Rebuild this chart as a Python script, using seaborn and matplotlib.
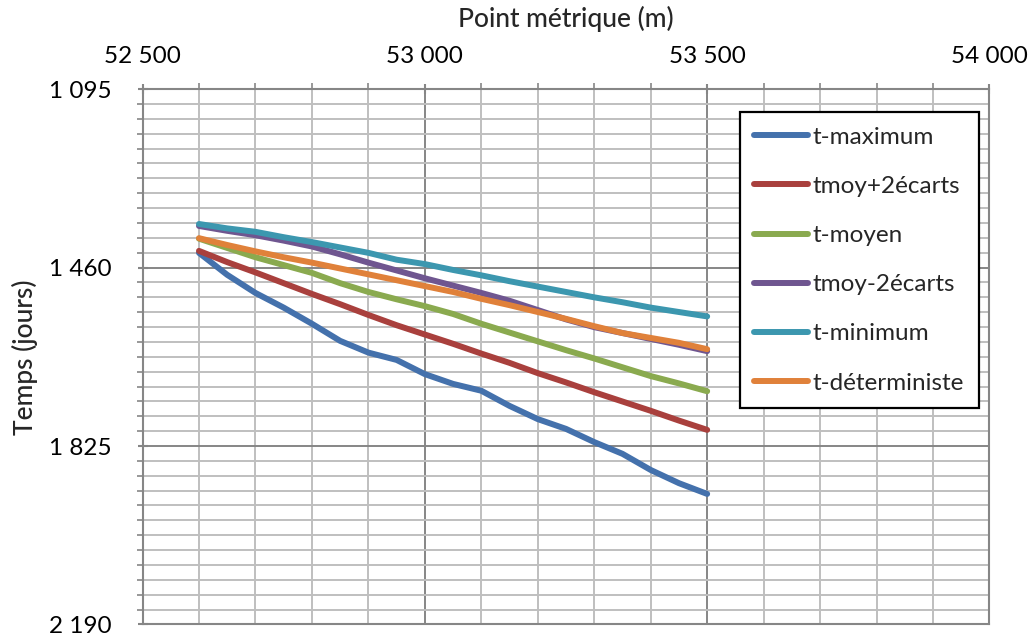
import matplotlib
matplotlib.use("Agg")
import matplotlib.pyplot as plt
from matplotlib.ticker import MultipleLocator, FuncFormatter
import seaborn as sns
import pandas as pd

# ---- data ----
x_pm = [52600, 52650, 52700, 52750, 52800, 52850, 52900, 52950, 53000, 53050,
        53100, 53150, 53200, 53250, 53300, 53350, 53400, 53450, 53500]
t_maximum = [1430, 1475, 1512, 1542, 1575, 1610, 1634, 1649, 1678, 1698,
             1712, 1743, 1770, 1790, 1817, 1841, 1874, 1901, 1923]
tmoy_plus_2 = [1426, 1449, 1470, 1492, 1514, 1535, 1557, 1578, 1597, 1616,
               1636, 1655, 1676, 1695, 1715, 1734, 1753, 1773, 1792]
t_moyen = [1401, 1420, 1439, 1455, 1471, 1492, 1510, 1525, 1539, 1555,
           1575, 1593, 1611, 1629, 1646, 1664, 1682, 1697, 1713]
tmoy_minus_2 = [1375, 1385, 1394, 1405, 1417, 1433, 1450, 1466, 1482, 1497,
                1512, 1528, 1547, 1566, 1582, 1594, 1606, 1618, 1631]
t_minimum = [1371, 1380, 1387, 1398, 1408, 1419, 1430, 1444, 1453, 1465,
             1476, 1488, 1499, 1510, 1521, 1531, 1542, 1551, 1560]
t_deterministe = [1400, 1414, 1427, 1439, 1450, 1462, 1474, 1486, 1498, 1510,
                  1524, 1537, 1551, 1565, 1580, 1594, 1604, 1614, 1627]

series_names = ["t-maximum", "tmoy+2écarts", "t-moyen", "tmoy-2écarts",
                "t-minimum", "t-déterministe"]
series_values = [t_maximum, tmoy_plus_2, t_moyen, tmoy_minus_2, t_minimum, t_deterministe]
colors = ["#4471AC", "#A9403D", "#8AAA4F", "#6F5690", "#3C97AF", "#E0813A"]

x_ticks = [52500, 53000, 53500, 54000]
y_ticks = [1095, 1460, 1825, 2190]

rows = []
for name, vals in zip(series_names, series_values):
    for xv, yv in zip(x_pm, vals):
        rows.append({"pm": xv, "t": yv, "serie": name})
df = pd.DataFrame(rows)

sns.set_theme(style="white")
plt.rcParams["font.family"] = ["Lato", "DejaVu Sans"]

fig = plt.figure(figsize=(10.29, 6.39), dpi=100)
ax = fig.add_axes([0.1385, 0.0227, 0.8231, 0.838])

sns.lineplot(data=df, x="pm", y="t", hue="serie", hue_order=series_names,
             palette=colors, linewidth=4.3, sort=False, ax=ax,
             solid_capstyle="round", solid_joinstyle="round", legend=True)

ax.set_xlim(52500, 54000)
ax.set_ylim(2190, 1095)
ax.set_xticks(x_ticks)
ax.set_yticks(y_ticks)
ax.xaxis.set_minor_locator(MultipleLocator(100))
ax.yaxis.set_minor_locator(MultipleLocator(365 / 12))
fmt = FuncFormatter(lambda v, p: f"{int(round(v)):,}".replace(",", " "))
ax.xaxis.set_major_formatter(fmt)
ax.yaxis.set_major_formatter(fmt)

ax.xaxis.tick_top()
ax.xaxis.set_label_position("top")
ax.grid(which="major", color="#868686", linewidth=1.4)
ax.grid(which="minor", color="#BFBFBF", linewidth=1.4)
ax.set_axisbelow(True)
for s in ax.spines.values():
    s.set_color("#868686")
    s.set_linewidth(1.5)

ax.tick_params(axis="both", which="major", labelsize=17.5, colors="#868686",
               labelcolor="black", length=7, width=1.5, direction="inout")
ax.tick_params(axis="x", which="major", pad=12)
ax.tick_params(axis="y", which="major", pad=19)
ax.tick_params(axis="both", which="minor", length=4, width=1.2, colors="#868686",
               direction="out")
ax.tick_params(axis="x", which="both", top=True, bottom=False)
ax.tick_params(axis="y", which="both", left=True, right=False)

ax.set_xlabel("Point métrique (m)", fontsize=19, fontweight="medium", labelpad=14)
ax.set_ylabel("Temps (jours)", fontsize=19, fontweight="medium", labelpad=8)

leg = ax.legend(loc="upper left", bbox_to_anchor=(0.719, 0.8247),
                bbox_transform=fig.transFigure, borderaxespad=0,
                frameon=True, fancybox=False, framealpha=1, edgecolor="black",
                fontsize=17.5, handlelength=2.2, handletextpad=0.2,
                labelspacing=1.16, borderpad=0.6, title=None)
leg.get_frame().set_linewidth(1.6)
for h in leg.get_lines():
    h.set_linewidth(4.3)
    h.set_solid_capstyle("round")

fig.savefig("out.png", dpi=100)
